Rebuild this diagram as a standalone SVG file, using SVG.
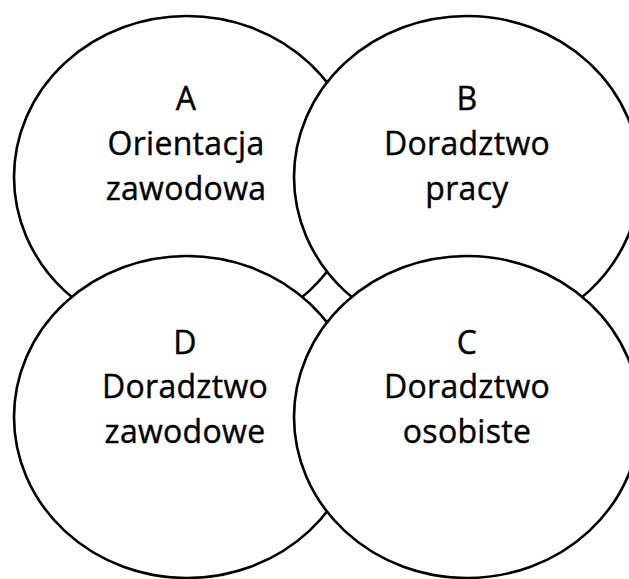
<svg xmlns="http://www.w3.org/2000/svg" width="629" height="579" viewBox="0 0 629 579">
  <style>
    .bubble { fill: #ffffff; stroke: #000000; stroke-width: 2.6; }
    .label { font-family: "Open Sans", "Noto Sans", "DejaVu Sans", sans-serif; font-size: 32px; letter-spacing: 0.3px; fill: #000000; stroke: #000000; stroke-width: 0.4px; text-anchor: middle; }
  </style>
  <rect x="0" y="0" width="629" height="579" fill="#ffffff"/>
  <!-- Drawing order A, B, D, C: each later ellipse covers the outlines of earlier ones -->
  <g id="node-a">
    <ellipse class="bubble" cx="187" cy="177" rx="173" ry="161"/>
    <text class="label" x="186" y="110">A</text>
    <text class="label" x="186" y="155">Orientacja</text>
    <text class="label" x="186" y="200">zawodowa</text>
  </g>
  <g id="node-b">
    <ellipse class="bubble" cx="467" cy="177" rx="173" ry="161"/>
    <text class="label" x="467" y="110">B</text>
    <text class="label" x="467" y="155">Doradztwo</text>
    <text class="label" x="467" y="200">pracy</text>
  </g>
  <g id="node-d">
    <ellipse class="bubble" cx="187" cy="417" rx="173" ry="161"/>
    <text class="label" x="185" y="354">D</text>
    <text class="label" x="185" y="398">Doradztwo</text>
    <text class="label" x="185" y="443">zawodowe</text>
  </g>
  <g id="node-c">
    <ellipse class="bubble" cx="467" cy="417" rx="173" ry="161"/>
    <text class="label" x="467" y="354">C</text>
    <text class="label" x="467" y="398">Doradztwo</text>
    <text class="label" x="467" y="443">osobiste</text>
  </g>
  <g id="connectors"/>
</svg>
